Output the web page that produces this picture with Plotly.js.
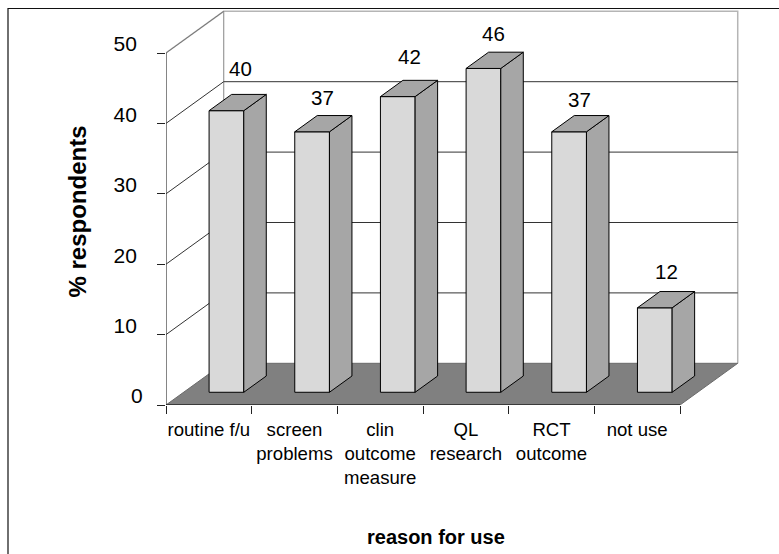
<!DOCTYPE html>
<html><head><meta charset="utf-8">
<script src="https://cdn.plot.ly/plotly-3.0.1.min.js"></script>
<style>html,body{margin:0;padding:0;background:#fff}</style>
</head><body><div id="chart" style="width:779px;height:554px"></div>
<script>
const categories = ["routine f/u", "screen<br>problems", "clin<br>outcome<br>measure", "QL<br>research", "RCT<br>outcome", "not use"];
const values = [40, 37, 42, 46, 37, 12];
const yTicks = [0, 10, 20, 30, 40, 50];
const yTickText = ["0", "10\u00a0", "20\u00a0", "30\u00a0", "40\u00a0", "50\u00a0"];

// value-label nudges in pixels (hand-placed in the original)
const labelShiftX = [-8, -12, -11, -12, -12.6, -10.5];
const labelShiftY = [26.4, 18, 23.6, 19, 16, 20];

// pseudo-3D style constants, in axis units
const PX_X = 85.67, PX_Y = 7.04;
const DX = 57.7 / PX_X, DY = 41.7 / PX_Y;
const D1 = 0.305, D2 = 0.695, BW = 0.405;
const N = categories.length;
const YMAX = 50;

const P = (x, y, d) => [x + d * DX, y + d * DY];
const path = pts => 'M' + pts.map(p => p[0] + ',' + p[1]).join('L') + (pts.closed ? 'Z' : '');
const poly = pts => { pts.closed = true; return pts; };
const lineShape = (pts, color, width) => ({type: 'path', xref: 'x', yref: 'y', layer: 'below', path: path(pts), line: {color, width}});

const shapes = [];
// walls
shapes.push(lineShape([P(0, YMAX, 0), P(0, YMAX, 1), P(N, YMAX, 1), P(N, 0, 1)], '#b5b5b5', 1.5));
shapes.push(lineShape([P(0, YMAX, 1), P(0, 0, 1)], '#999999', 1.2));
// gridlines
yTicks.slice(1, -1).forEach(v => shapes.push(lineShape([P(0, v, 0), P(0, v, 1), P(N, v, 1)], '#333333', 1)));
shapes.push(lineShape([P(0, YMAX, 0), P(0, YMAX, 1)], '#777777', 1));
// floor
shapes.push({type: 'path', xref: 'x', yref: 'y', layer: 'below',
  path: path(poly([P(0, 0, 0), P(N, 0, 0), P(N, 0, 1), P(0, 0, 1)])),
  fillcolor: '#808080', line: {color: '#6a6a6a', width: 1}});
// outer frame
const FL = (8 - 166) / 579, FT = 1 + (6 - 8.5) / 399;
shapes.push({type: 'path', xref: 'paper', yref: 'paper', layer: 'above',
  path: `M${FL},${-149 / 399}L${FL},${FT}L${(779 - 166) / 579},${FT}`, line: {color: '#111111', width: 1.2}});

const traces = [];
// bar fronts
traces.push({type: 'bar', x: values.map((v, i) => i + 0.5 + D1 * DX), y: values,
  base: values.map(() => D1 * DY), width: BW, marker: {color: '#d9d9d9', line: {color: '#000', width: 1}}, hoverinfo: 'y', cliponaxis: false});
// bar sides and tops
values.forEach((v, i) => {
  const l = i + 0.5 - BW / 2, r = i + 0.5 + BW / 2;
  const side = [P(r, 0, D1), P(r, 0, D2), P(r, v, D2), P(r, v, D1), P(r, 0, D1)];
  const top = [P(l, v, D1), P(r, v, D1), P(r, v, D2), P(l, v, D2), P(l, v, D1)];
  [side, top].forEach(pts => traces.push({type: 'scatter', mode: 'lines', x: pts.map(p => p[0]), y: pts.map(p => p[1]),
    fill: 'toself', fillcolor: '#a6a6a6', line: {color: '#000', width: 1}, hoverinfo: 'skip', cliponaxis: false}));
});
// axis lines
traces.push({type: 'scatter', mode: 'lines', x: [0, 0], y: [0, YMAX], line: {color: '#333', width: 1.2}, hoverinfo: 'skip', cliponaxis: false});
traces.push({type: 'scatter', mode: 'lines', x: [0, N], y: [0, 0], line: {color: '#000', width: 1.2}, hoverinfo: 'skip', cliponaxis: false});

const font = {family: '"Liberation Sans", Arial, sans-serif', color: '#000'};
const annotations = values.map((v, i) => {
  const p = P(i + 0.5, v, D2);
  return {x: p[0], y: p[1], xref: 'x', yref: 'y', text: String(v), showarrow: false, xanchor: 'center', yanchor: 'middle',
    xshift: labelShiftX[i], yshift: labelShiftY[i], font: {...font, size: 20.5}};
});
annotations.push({xref: 'paper', yref: 'paper', x: (436 - 166) / 579, y: -(537 - 405) / 399, text: '<b>reason for use</b>', showarrow: false, xanchor: 'center', yanchor: 'middle', font: {...font, size: 20}});
annotations.push({xref: 'paper', yref: 'paper', x: (76.5 - 166) / 579, y: (405 - 211) / 399, text: '<b>% respondents</b>', textangle: -90, showarrow: false, xanchor: 'center', yanchor: 'middle', font: {...font, size: 24}});

const layout = {
  width: 779, height: 554, showlegend: false, paper_bgcolor: '#fff', plot_bgcolor: '#fff',
  margin: {l: 166, r: 34, t: 6, b: 149, pad: 0},
  font: {...font, size: 18},
  xaxis: {range: [0, 579 / PX_X], tickmode: 'array', tickvals: categories.map((c, i) => i + 0.5), ticktext: categories,
    ticks: '', showgrid: false, zeroline: false, showline: false, tickangle: 0, ticklabelstandoff: 11, tickfont: {...font, size: 18.6},
    minor: {tickmode: 'array', tickvals: Array.from({length: N + 1}, (_, i) => i), ticks: 'outside', ticklen: 8, tickwidth: 1, tickcolor: '#222', showgrid: false}},
  yaxis: {range: [0, 399 / PX_Y], tickmode: 'array', tickvals: yTicks, ticktext: yTickText, ticks: 'outside', ticklen: 8, tickwidth: 1, tickcolor: '#222',
    showgrid: false, zeroline: false, showline: false, ticklabelshift: -9, ticklabelstandoff: 10, tickfont: {...font, size: 21}},
  shapes, annotations
};
Plotly.newPlot('chart', traces, layout, {staticPlot: true, displayModeBar: false});
</script></body></html>
